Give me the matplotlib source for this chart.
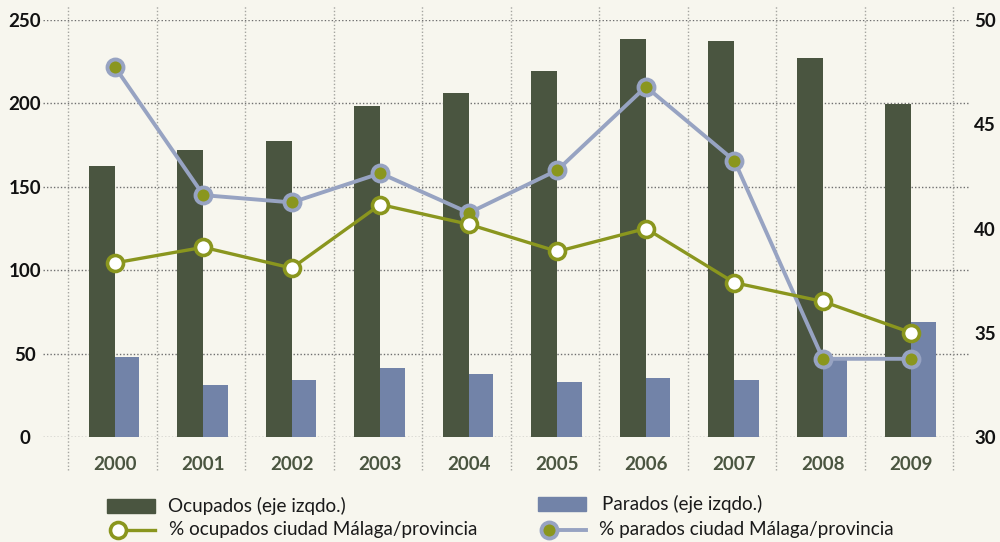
import matplotlib
matplotlib.use("Agg")
import matplotlib.pyplot as plt
from matplotlib.patches import Rectangle
from matplotlib.lines import Line2D

years = ["2000", "2001", "2002", "2003", "2004", "2005", "2006", "2007", "2008", "2009"]
ocupados = [162.5, 172, 177.5, 198.5, 206, 219.5, 238.5, 237.5, 227, 199.5]
parados = [48, 31, 34, 41.5, 38, 33, 35.5, 34, 48, 69]
pct_ocupados = [38.35, 39.1, 38.1, 41.15, 40.2, 38.9, 40.0, 37.4, 36.5, 35.0]
pct_parados = [47.75, 41.6, 41.25, 42.65, 40.75, 42.8, 46.8, 43.25, 33.75, 33.75]
left_ticks = [0, 50, 100, 150, 200, 250]
right_ticks = [30, 35, 40, 45, 50]

BG = "#f7f6ee"
C_OCU = "#4a5540"
C_PAR = "#7283a8"
C_OLIVE = "#8a961e"
C_LBLUE = "#97a3c2"

plt.rcParams['font.family'] = ['Lato', 'DejaVu Sans']

W, H = 1000, 542
fig = plt.figure(figsize=(W / 100, H / 100), dpi=100, facecolor=BG)
x0, x1, ytop, ybot = 43, 970, 20, 437
ax = fig.add_axes([x0 / W, 1 - ybot / H, (x1 - x0) / W, (ybot - ytop) / H])
ax.set_facecolor(BG)
ax2 = ax.twinx()

n = len(years)
xs = list(range(n))
off = 0.03
xc = [x + off for x in xs]

ax.bar(xc, ocupados, width=-0.295, align='edge', color=C_OCU, zorder=3)
ax.bar(xc, parados, width=0.275, align='edge', color=C_PAR, zorder=3)

ax.set_xlim(-0.5 - 25 / 88.5, 9.5 + 17 / 88.5)
ax.set_ylim(0, 250)
ax2.set_ylim(30, 50)

# grid
for t in left_ticks:
    ax.axhline(t, color="#6f6f6f", lw=1.0, ls=(0, (1, 1.5)), zorder=1)
for b in range(n + 1):
    ax.axvline(b - 0.5, ymin=-33 / 417, ymax=1 + 15 / 417, color="#a5a5a0",
               lw=1.0, ls=(0, (1, 1.5)), zorder=1, clip_on=False)

ax2.plot(xc, pct_parados, color=C_LBLUE, lw=2.8, marker='o', ms=11.5,
         mfc=C_OLIVE, mec=C_LBLUE, mew=2.8, zorder=4)
ax2.plot(xc, pct_ocupados, color=C_OLIVE, lw=2.4, marker='o', ms=11.5,
         mfc='white', mec=C_OLIVE, mew=2.6, zorder=5)

for a in (ax, ax2):
    for s in a.spines.values():
        s.set_visible(False)

ax.set_yticks(left_ticks)
ax.set_yticklabels([str(t) for t in left_ticks])
ax.tick_params(axis='y', length=0, pad=13, labelsize=13.5)
for lab in ax.get_yticklabels():
    lab.set_fontweight('bold')
    lab.set_ha('center')
    lab.set_color('#111111')

ax2.set_yticks(right_ticks)
ax2.set_yticklabels([str(t) for t in right_ticks])
ax2.tick_params(axis='y', length=0, pad=3, labelsize=13.5)
for lab in ax2.get_yticklabels():
    lab.set_fontweight('bold')
    lab.set_color('#111111')

ax.set_xticks(xc)
ax.set_xticklabels(years)
ax.tick_params(axis='x', length=0, pad=13.5, labelsize=13.5)
for lab in ax.get_xticklabels():
    lab.set_fontweight('bold')
    lab.set_color(C_OCU)

# legend (manual, pixel positions)
def fx(px):
    return px / W

def fy(py):
    return 1 - py / H

fig.patches.append(Rectangle((fx(107), fy(513)), fx(155) - fx(107), fy(499) - fy(513),
                             transform=fig.transFigure, color=C_OCU))
fig.patches.append(Rectangle((fx(538), fy(511)), fx(586) - fx(538), fy(497) - fy(511),
                             transform=fig.transFigure, color=C_PAR))
fig.lines.append(Line2D([fx(118), fx(155)], [fy(530), fy(530)], transform=fig.transFigure,
                        color=C_OLIVE, lw=2.4))
fig.lines.append(Line2D([fx(118)], [fy(530)], transform=fig.transFigure, marker='o',
                        ms=11.5, mfc='white', mec=C_OLIVE, mew=2.6, ls='none'))
fig.lines.append(Line2D([fx(549), fx(586)], [fy(530), fy(530)], transform=fig.transFigure,
                        color=C_LBLUE, lw=2.8))
fig.lines.append(Line2D([fx(549)], [fy(530)], transform=fig.transFigure, marker='o',
                        ms=11.5, mfc=C_OLIVE, mec=C_LBLUE, mew=2.8, ls='none'))

lkw = dict(fontsize=13.6, color='#1a1a1a', va='center', ha='left')
fig.text(fx(168), fy(506), "Ocupados (eje izqdo.)", **lkw)
fig.text(fx(602), fy(504), "Parados (eje izqdo.)", **lkw)
fig.text(fx(169), fy(530), "% ocupados ciudad Málaga/provincia", **lkw)
fig.text(fx(599), fy(530), "% parados ciudad Málaga/provincia", **lkw)

fig.savefig("out.png", dpi=100, facecolor=BG)
